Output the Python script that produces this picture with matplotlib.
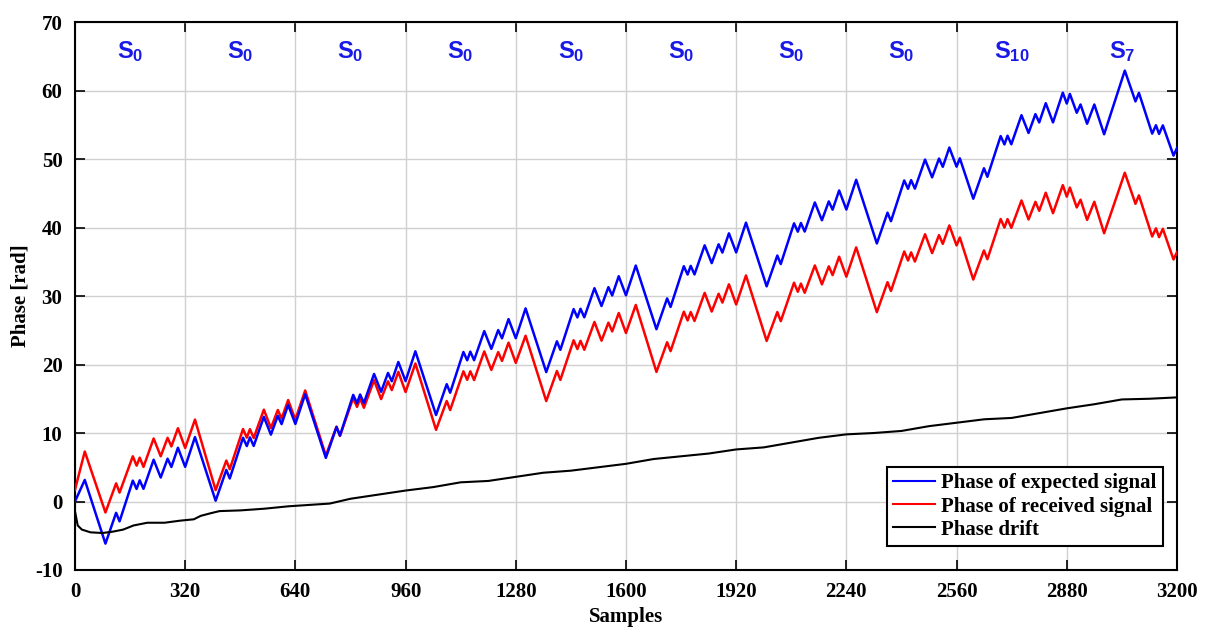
import matplotlib
matplotlib.use("Agg")
import matplotlib.pyplot as plt

# ---- data -------------------------------------------------------------
# breakpoints of the piecewise-linear phase trajectories (sample index)
vertex_samples = [
    0, 28.5, 88.5, 119.5, 129.5, 168, 179, 188, 199, 228.5, 249, 269, 280, 299,
    320, 348.5, 408.5, 439.5, 449.5, 488, 499, 508, 519, 548.5, 569, 589, 600, 619,
    640, 668.5, 728.5, 759.5, 769.5, 808, 819, 828, 839, 868.5, 889, 909, 920, 939,
    960, 988.5, 1048.5, 1079.5, 1089.5, 1128, 1139, 1148, 1159, 1188.5, 1209, 1229, 1240, 1259,
    1280, 1308.5, 1368.5, 1399.5, 1409.5, 1448, 1459, 1468, 1479, 1508.5, 1529, 1549, 1560, 1579,
    1600, 1628.5, 1688.5, 1719.5, 1729.5, 1768, 1779, 1788, 1799, 1828.5, 1849, 1869, 1880, 1899,
    1920, 1948.5, 2008.5, 2039.5, 2049.5, 2088, 2099, 2108, 2119, 2148.5, 2169, 2189, 2200, 2219,
    2240, 2268.5, 2328.5, 2359.5, 2369.5, 2408, 2419, 2428, 2439, 2468.5, 2489, 2509, 2520, 2539,
    2560, 2569.5, 2608.5, 2639.5, 2649.5, 2688, 2699, 2708, 2719, 2748.5, 2769, 2789, 2800, 2819, 2840, 2868.5,
    2880, 2889, 2909, 2920, 2939, 2960, 2988.5, 3048.5, 3079.5, 3089.5, 3128, 3139, 3148, 3159, 3190, 3200,
]

expected_phase = [
    0.0, 3.15, -6.15, -1.65, -2.9, 3.05, 1.83, 3.1, 1.85, 6.1, 3.5, 6.25, 5.04, 7.85,
    5.06, 9.41, 0.11, 4.61, 3.36, 9.31, 8.09, 9.36, 8.11, 12.36, 9.76, 12.51, 11.3, 14.11,
    11.32, 15.67, 6.37, 10.87, 9.62, 15.57, 14.35, 15.62, 14.37, 18.62, 16.02, 18.77, 17.56, 20.37,
    17.58, 21.93, 12.63, 17.13, 15.88, 21.83, 20.61, 21.88, 20.63, 24.88, 22.28, 25.03, 23.82, 26.63,
    23.84, 28.19, 18.89, 23.39, 22.14, 28.09, 26.87, 28.14, 26.89, 31.14, 28.54, 31.29, 30.08, 32.89,
    30.10, 34.45, 25.15, 29.65, 28.4, 34.35, 33.13, 34.4, 33.15, 37.4, 34.8, 37.55, 36.34, 39.15,
    36.36, 40.71, 31.41, 35.91, 34.66, 40.61, 39.39, 40.66, 39.41, 43.66, 41.06, 43.81, 42.6, 45.41,
    42.62, 46.97, 37.67, 42.17, 40.92, 46.87, 45.65, 46.92, 45.67, 49.92, 47.32, 50.07, 48.86, 51.67,
    48.88, 50.1, 44.2, 48.65, 47.4, 53.35, 52.13, 53.4, 52.15, 56.4, 53.8, 56.55, 55.34, 58.15, 55.34, 59.69,
    58.1, 59.5, 56.75, 57.96, 55.15, 57.96, 53.61, 62.91, 58.41, 59.66, 53.71, 54.93, 53.66, 54.91, 50.5, 51.6,
]

received_phase = [
    1.7, 7.3, -1.6, 2.65, 1.3, 6.6, 5.23, 6.4, 5.05, 9.2, 6.6, 9.3, 8.04, 10.7,
    7.81, 11.96, 1.66, 5.98, 4.71, 10.58, 9.32, 10.56, 9.27, 13.41, 10.72, 13.36, 12.1, 14.81,
    11.95, 16.21, 6.71, 10.94, 9.57, 15.11, 13.81, 15.01, 13.68, 17.71, 14.95, 17.55, 16.26, 18.93,
    15.98, 20.15, 10.46, 14.68, 13.35, 19.01, 17.76, 19.01, 17.73, 21.91, 19.21, 21.81, 20.52, 23.19,
    20.24, 24.2, 14.66, 19.05, 17.75, 23.54, 22.25, 23.46, 22.15, 26.21, 23.48, 26.11, 24.83, 27.52,
    24.6, 28.7, 18.91, 23.25, 21.95, 27.71, 26.43, 27.66, 26.35, 30.46, 27.73, 30.33, 29.04, 31.71,
    28.76, 33.0, 23.44, 27.66, 26.33, 31.94, 30.62, 31.81, 30.47, 34.46, 31.7, 34.33, 33.05, 35.74,
    32.82, 37.1, 27.64, 32.02, 30.73, 36.5, 35.18, 36.37, 35.03, 39.02, 36.26, 38.89, 37.61, 40.3,
    37.38, 38.54, 32.4, 36.65, 35.37, 41.24, 39.99, 41.23, 39.95, 43.95, 41.17, 43.75, 42.44, 45.08, 42.09, 46.19,
    44.5, 45.83, 42.93, 44.06, 41.11, 43.76, 39.16, 48.0, 43.46, 44.7, 38.69, 39.88, 38.59, 39.81, 35.33, 36.4,
]

drift_samples = [
    0, 8, 20, 45, 80, 110, 140, 170, 210, 260, 305, 345, 365, 395, 420, 480, 550, 620,
    680, 740, 800, 880, 960, 1040, 1120, 1200, 1280, 1360, 1440, 1520, 1600, 1680, 1760,
    1840, 1920, 2000, 2080, 2160, 2240, 2320, 2400, 2480, 2560, 2640, 2720, 2800, 2880,
    2960, 3040, 3120, 3200,
]
phase_drift = [
    -1.4, -3.5, -4.1, -4.5, -4.6, -4.4, -4.1, -3.5, -3.1, -3.1, -2.8, -2.6, -2.1, -1.7, -1.4, -1.3, -1.05, -0.7,
    -0.5, -0.3, 0.4, 1.0, 1.6, 2.1, 2.8, 3.0, 3.6, 4.2, 4.5, 5.0, 5.5, 6.2, 6.6,
    7.0, 7.6, 7.9, 8.6, 9.3, 9.8, 10.0, 10.3, 11.0, 11.5, 12.0, 12.2, 12.9, 13.6,
    14.2, 14.9, 15.0, 15.2,
]

symbol_labels = ["0", "0", "0", "0", "0", "0", "0", "0", "10", "7"]
symbol_length = 320

# ---- styling ----------------------------------------------------------
plt.rcParams["axes.unicode_minus"] = False
plt.rcParams["mathtext.fontset"] = "custom"
plt.rcParams["mathtext.bf"] = "Liberation Sans:bold"
plt.rcParams["mathtext.rm"] = "Liberation Sans"
serif_bold = dict(family="Liberation Serif", weight="bold")

fig = plt.figure(figsize=(12.11, 6.29), dpi=100)
ax = fig.add_axes([0.0619, 0.0938, 0.9100, 0.8712])

ax.plot(vertex_samples, expected_phase, color="#0000ff", lw=1.8,
        label="Phase of expected signal", zorder=4)
ax.plot(vertex_samples, received_phase, color="#ff0000", lw=1.8,
        label="Phase of received signal", zorder=3)
ax.plot(drift_samples, phase_drift, color="black", lw=1.5,
        label="Phase drift", zorder=5)

ax.set_xlim(0, 3200)
ax.set_ylim(-10, 70)
ax.set_xticks(range(0, 3201, symbol_length))
ax.set_yticks(range(-10, 71, 10))
ax.grid(True, color="#d0d0d0", lw=1.0)
ax.set_axisbelow(True)

ax.tick_params(direction="in", length=7, width=1.2, top=True, right=True,
               labelsize=15, pad=9)
for lab in ax.get_xticklabels() + ax.get_yticklabels():
    lab.set_fontfamily("Liberation Serif")
    lab.set_fontweight("bold")
for sp in ax.spines.values():
    sp.set_linewidth(1.5)

ax.set_xlabel("Samples", fontsize=15, labelpad=3, **serif_bold)
ax.set_ylabel("Phase [rad]", fontsize=15, labelpad=3, **serif_bold)

# symbol annotations across the top of each window
for i, sym in enumerate(symbol_labels):
    xc = (i + 0.5) * symbol_length
    ax.text(xc, 65.7, r"$\mathbf{S_{%s}}$" % sym, color="#1a1ae6",
            fontsize=17, ha="center", va="center", zorder=6)

leg = ax.legend(loc="lower right", bbox_to_anchor=(0.987, 0.044), borderaxespad=0,
                prop=dict(family="Liberation Serif", weight="bold", size=15),
                frameon=True, fancybox=False, framealpha=1, edgecolor="black",
                handlelength=2.0, handletextpad=0.3, borderpad=0.3, labelspacing=0.15)
leg.get_frame().set_linewidth(1.5)
for h in leg.get_lines():
    h.set_linewidth(1.5)

fig.savefig("out.png", dpi=100)
